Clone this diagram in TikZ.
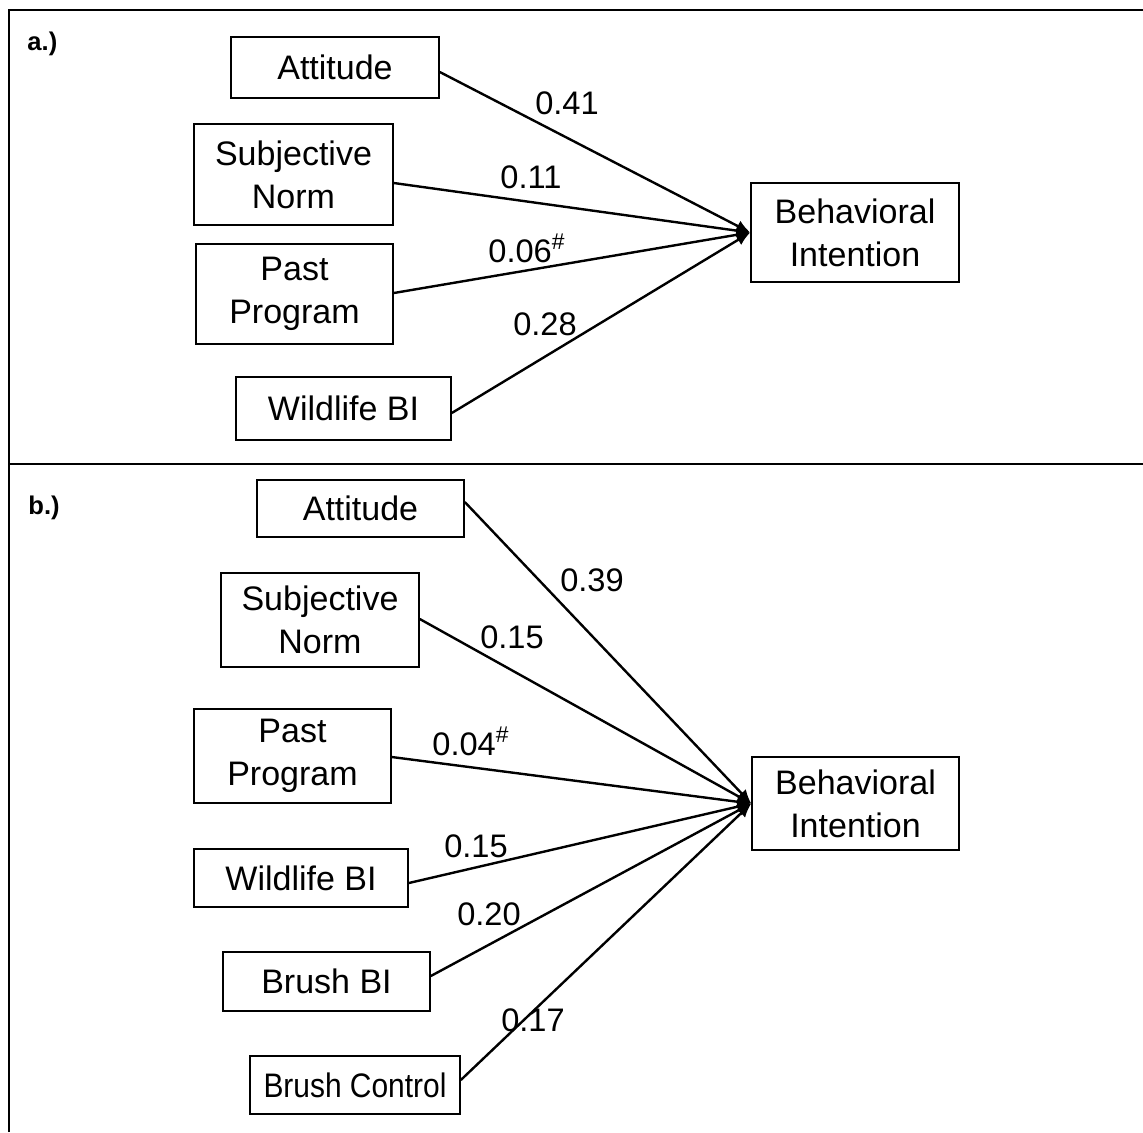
\documentclass[tikz,border=0pt]{standalone}
\usepackage{fontspec}
\setmainfont{Liberation Sans}
\newfontfamily\etroite[FakeStretch=0.88]{Liberation Sans}
\usetikzlibrary{arrows.meta}

\begin{document}
\begin{tikzpicture}[x=0.5pt, y=-0.5pt]
	\tikzset{boite/.style={rectangle, draw=black, line width=0.8pt, inner sep=0pt, align=center, font=\fontsize{17}{21.5}\selectfont},
	coef/.style={inner sep=0pt, font=\fontsize{16.3}{19}\selectfont},
	panneau/.style={inner sep=0pt, font=\fontsize{12.8}{15}\selectfont\bfseries},
	fleche/.style={line width=1.2pt, -{Latex[length=7pt, width=6pt]}}};
	\useasboundingbox (0,0) rectangle (1143,1132);

	% cadre
	\draw[line width=1pt] (9,1132) -- (9,10) -- (1143,10);
	\draw[line width=1pt] (9,464) -- (1143,464);
	\node[panneau, anchor=base west] (pa) at (27,50) {a.)};
	\node[panneau, anchor=base west] (pb) at (28,514) {b.)};

	% a.)
	\node[boite, minimum width=104pt, minimum height=30.5pt] (attA) at (335,67.5) {Attitude};
	\node[boite, minimum width=99.5pt, minimum height=50.5pt] (snA) at (293.5,174.5) {Subjective\\Norm};
	\node[boite, minimum width=98.5pt, minimum height=50pt] (ppA) at (294.5,294) {Past\\Program};
	\node[boite, minimum width=107.5pt, minimum height=31.5pt] (wbA) at (343.5,408.5) {Wildlife BI};
	\node[boite, minimum width=104pt, minimum height=49.5pt] (biA) at (855,232.5) {Behavioral\\Intention};

	\foreach \n/\s in {attA/-2.25, snA/-4.25, ppA/0.5, wbA/-2.25} {
		\draw[fleche] ([yshift=\s pt]\n.east) -- (biA.west);
	}
	\node[coef] (ca1) at (567,103) {0.41};
	\node[coef] (ca2) at (531,177) {0.11};
	\node[coef, anchor=base west] (ca3) at (488,262) {0.06\textsuperscript{\#}};
	\node[coef] (ca4) at (545,324) {0.28};

	% b.)
	\node[boite, minimum width=103.5pt, minimum height=28.5pt] (attB) at (360.5,508.5) {Attitude};
	\node[boite, minimum width=99pt, minimum height=47pt] (snB) at (320,620) {Subjective\\Norm};
	\node[boite, minimum width=98.5pt, minimum height=47pt] (ppB) at (292.5,756) {Past\\Program};
	\node[boite, minimum width=107pt, minimum height=29pt] (wbB) at (301,878) {Wildlife BI};
	\node[boite, minimum width=103.5pt, minimum height=29.5pt] (bbB) at (326.5,981.5) {Brush BI};
	\node[boite, minimum width=105pt, minimum height=29pt, font=\fontsize{17}{21}\etroite] (bcB) at (355,1085) {Brush Control};
	\node[boite, minimum width=103.5pt, minimum height=46.5pt] (biB) at (855.5,803.5) {Behavioral\\Intention};

	\foreach \n/\s in {attB/3.25, snB/0.5, ppB/-0.5, wbB/-2.5, bbB/2.75, bcB/2.5} {
		\draw[fleche] ([yshift=\s pt]\n.east) -- (biB.west);
	}
	\node[coef] (cb1) at (592,580) {0.39};
	\node[coef] (cb2) at (512,637) {0.15};
	\node[coef, anchor=base west] (cb3) at (432,755) {0.04\textsuperscript{\#}};
	\node[coef] (cb4) at (476,846) {0.15};
	\node[coef] (cb5) at (489,914) {0.20};
	\node[coef] (cb6) at (533,1020) {0.17};
\end{tikzpicture}
\end{document}
